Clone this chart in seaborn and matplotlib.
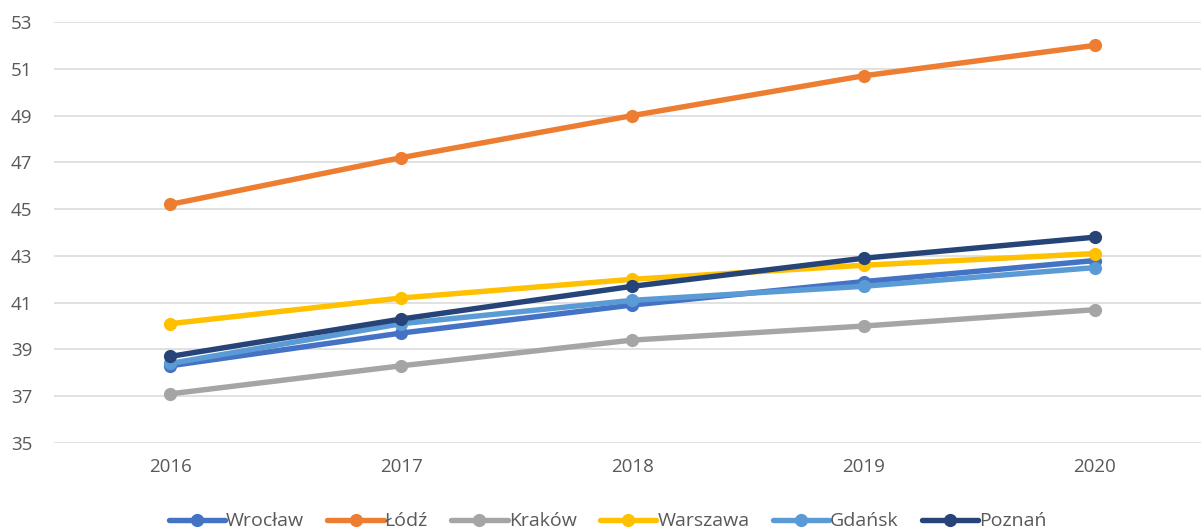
import matplotlib
matplotlib.use("Agg")
import matplotlib.pyplot as plt
import seaborn as sns
import pandas as pd

# --- data ---
years = ["2016", "2017", "2018", "2019", "2020"]
wroclaw = [38.3, 39.7, 40.9, 41.9, 42.8]
lodz = [45.2, 47.2, 49.0, 50.7, 52.0]
krakow = [37.1, 38.3, 39.4, 40.0, 40.7]
warszawa = [40.1, 41.2, 42.0, 42.6, 43.1]
gdansk = [38.4, 40.1, 41.1, 41.7, 42.5]
poznan = [38.7, 40.3, 41.7, 42.9, 43.8]

cities = ["Wrocław", "Łódź", "Kraków", "Warszawa", "Gdańsk", "Poznań"]
series = [wroclaw, lodz, krakow, warszawa, gdansk, poznan]
colors = ["#4472C4", "#ED7D31", "#A5A5A5", "#FFC000", "#5B9BD5", "#264478"]

rows = []
for city, vals in zip(cities, series):
    for i, (yr, v) in enumerate(zip(years, vals)):
        rows.append({"pos": i, "year": yr, "value": v, "city": city})
df = pd.DataFrame(rows)

sns.set_theme(style="white")
plt.rcParams["font.family"] = ["Open Sans", "DejaVu Sans"]

fig = plt.figure(figsize=(12.01, 5.31), dpi=100)
# plot area runs a little past the right edge of the picture, as in the reference
ax = fig.add_axes([54.4 / 1201, 88 / 531, 1156 / 1201, 421 / 531])

sns.lineplot(data=df, x="pos", y="value", hue="city", hue_order=cities,
             palette=colors, marker="o", markersize=9.5, markeredgewidth=0,
             linewidth=3.9, ax=ax, legend=True)

ax.set_xlim(-0.5, 4.5)
ax.set_ylim(35, 53)
ax.set_yticks(range(35, 54, 2))
ax.set_xticks(range(len(years)))
ax.set_xticklabels(years)
ax.set_xlabel("")
ax.set_ylabel("")
ax.grid(axis="y", color="#D9D9D9", linewidth=1.1)
ax.set_axisbelow(True)
for s in ax.spines.values():
    s.set_visible(False)
ax.tick_params(axis="both", length=0, labelsize=13.5, labelcolor="#595959")
ax.tick_params(axis="y", pad=16)
ax.tick_params(axis="x", pad=11)

handles, labels = ax.get_legend_handles_labels()
ax.get_legend().remove()
fig.legend(handles, labels, loc="center", bbox_to_anchor=(0.506, 0.018),
           ncol=6, frameon=False, fontsize=14, handlelength=2.9,
           handletextpad=0.05, columnspacing=1.2, labelcolor="#595959")

fig.savefig("out.png", dpi=100)
